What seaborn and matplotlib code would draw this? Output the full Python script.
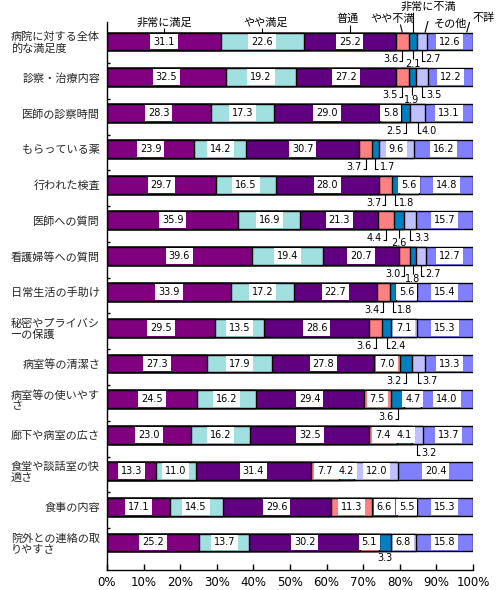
import numpy as np
import pandas as pd
import matplotlib
matplotlib.use("Agg")
import matplotlib.pyplot as plt
import seaborn as sns

# ---------------- data ----------------
categories = ["病院に対する全体\n的な満足度", "診察・治療内容", "医師の診察時間", "もらっている薬",
              "行われた検査", "医師への質問", "看護婦等への質問", "日常生活の手助け",
              "秘密やプライバシ\nーの保護", "病室等の清潔さ", "病室等の使いやす\nさ",
              "廊下や病室の広さ", "食堂や談話室の快\n適さ", "食事の内容", "院外との連絡の取\nりやすさ"]
series_names = ["非常に満足", "やや満足", "普通", "やや不満", "非常に不満", "その他", "不詳"]
very_satisfied = [31.1, 32.5, 28.3, 23.9, 29.7, 35.9, 39.6, 33.9, 29.5, 27.3, 24.5, 23.0, 13.3, 17.1, 25.2]
somewhat_satisfied = [22.6, 19.2, 17.3, 14.2, 16.5, 16.9, 19.4, 17.2, 13.5, 17.9, 16.2, 16.2, 11.0, 14.5, 13.7]
neutral = [25.2, 27.2, 29.0, 30.7, 28.0, 21.3, 20.7, 22.7, 28.6, 27.8, 29.4, 32.5, 31.4, 29.6, 30.2]
somewhat_dissatisfied = [3.6, 3.5, 5.8, 3.7, 3.7, 4.4, 3.0, 3.4, 3.6, 7.0, 7.5, 7.4, 7.7, 11.3, 5.1]
very_dissatisfied = [2.1, 1.9, 2.5, 1.7, 1.8, 2.6, 1.8, 1.8, 2.4, 3.2, 3.6, 4.1, 4.2, 6.6, 3.3]
other = [2.7, 3.5, 4.0, 9.6, 5.6, 3.3, 2.7, 5.6, 7.1, 3.7, 4.7, 3.2, 12.0, 5.5, 6.8]
unknown = [12.6, 12.2, 13.1, 16.2, 14.8, 15.7, 12.7, 15.4, 15.3, 13.3, 14.0, 13.7, 20.4, 15.3, 15.8]
x_tick_values = [0, 10, 20, 30, 40, 50, 60, 70, 80, 90, 100]
x_tick_labels = ["0%", "10%", "20%", "30%", "40%", "50%", "60%", "70%", "80%", "90%", "100%"]

# ---------------- style ----------------
colors = ["#800080", "#A0E0E0", "#600080", "#FF8080", "#0080C0", "#C0C0FF", "#8080FF"]

# label placement for small segments (row, series) -> mode
outside = {
    (0, 3): "L", (0, 4): "B", (0, 5): "R",
    (1, 3): "L", (1, 4): "B", (1, 5): "R",
    (2, 4): "L", (2, 5): "R",
    (3, 3): "L", (3, 4): "R",
    (4, 3): "L", (4, 4): "R",
    (5, 3): "L", (5, 4): "B", (5, 5): "R",
    (6, 3): "L", (6, 4): "B", (6, 5): "R",
    (7, 3): "L", (7, 4): "R",
    (8, 3): "L", (8, 4): "R",
    (9, 4): "L", (9, 5): "R",
    (10, 4): "L",
    (11, 5): "R",
    (14, 4): "U",
}
# legend callouts: (dx_text_px, y_text_px_from_top, dx_linetop_px, y_linetop_px, target_frac)
legend_layout = [
    (0, 22.5, 0, 28, 0.5),
    (3, 22.5, 0, 28, 0.5),
    (-2, 19, 0, 24.5, 0.5),
    (-10, 19, -2, 24.5, 0.5),
    (16, 6.5, 0, 11.5, 0.5),
    (26, 24, 3, 21, 0.85),
    (17, 18, 3, 22, 0.87),
]

sns.set_theme(style="white")
plt.rcParams["font.family"] = ["Noto Sans CJK JP", "DejaVu Sans"]

df = pd.DataFrame({"category": categories})
cols = [very_satisfied, somewhat_satisfied, neutral, somewhat_dissatisfied,
        very_dissatisfied, other, unknown]
for name, vals in zip(series_names, cols):
    df[name] = vals
cum = df[series_names].cumsum(axis=1)
starts = cum - df[series_names]

W, H = 496, 590
fig = plt.figure(figsize=(W / 100, H / 100), dpi=100)
ax = fig.add_axes([107 / W, 20 / H, 366 / W, 548 / H])

for j in reversed(range(len(series_names))):
    sns.barplot(x=cum[series_names[j]].values, y=df["category"], orient="h",
                color=colors[j], saturation=1, width=0.5, edgecolor="black",
                linewidth=1.0, errorbar=None, ax=ax)

ax.set_xlim(0, 100)
ax.set_ylim(14.77, -0.545)
ax.set_xlabel("")
ax.set_ylabel("")
for s in ["top", "right"]:
    ax.spines[s].set_visible(False)
for s in ["left", "bottom"]:
    ax.spines[s].set_color("black")
    ax.spines[s].set_linewidth(1.0)

ax.set_xticks(x_tick_values)
ax.set_xticklabels(x_tick_labels, family="DejaVu Sans")
ax.tick_params(axis="x", direction="in", length=4, width=1, bottom=True,
               labelsize=8.5, pad=4, colors="black")
ax.set_yticks(range(len(categories)))
ax.set_yticklabels(categories, fontsize=8, linespacing=1.1)
for lbl in ax.get_yticklabels():
    lbl.set_multialignment("left")
ax.tick_params(axis="y", which="major", length=0, pad=5)
ax.set_yticks([i - 0.4 for i in range(1, len(categories))], minor=True)
ax.tick_params(axis="y", which="minor", direction="in", length=2.5, width=1,
               left=True, color="black")

fig.canvas.draw()
d2p = ax.transData.transform
p2d = ax.transData.inverted().transform


def line_px(points):
    pts = np.array([p2d(p) for p in points])
    ax.plot(pts[:, 0], pts[:, 1], color="black", lw=0.8, clip_on=False,
            solid_capstyle="butt", zorder=5)


num_kw = dict(fontsize=7, family="DejaVu Sans", color="black", zorder=6)

for i in range(len(categories)):
    for j, name in enumerate(series_names):
        v = df.loc[i, name]
        xc = starts.loc[i, name] + v / 2
        txt = f"{v:.1f}"
        mode = outside.get((i, j))
        if mode is None:
            ax.text(xc, i, txt, ha="center", va="center",
                    bbox=dict(boxstyle="square,pad=0.3", fc="white", ec="none"),
                    **num_kw)
            continue
        x0, y0 = d2p((xc, i + 0.25))
        if mode == "L":
            line_px([(x0, y0), (x0, y0 - 11), (x0 - 3, y0 - 11)])
            tx, ty = p2d((x0 - 4, y0 - 9))
            ax.text(tx, ty, txt, ha="right", va="center", clip_on=False, **num_kw)
        elif mode == "R":
            line_px([(x0, y0), (x0, y0 - 11), (x0 + 3, y0 - 11)])
            tx, ty = p2d((x0 + 4, y0 - 9))
            ax.text(tx, ty, txt, ha="left", va="center", clip_on=False, **num_kw)
        elif mode == "B":
            line_px([(x0, y0), (x0, y0 - 9)])
            tx, ty = p2d((x0, y0 - 14))
            ax.text(tx, ty, txt, ha="center", va="center", clip_on=False, **num_kw)
        else:
            tx, ty = p2d((x0, y0 - 7))
            ax.text(tx, ty, txt, ha="center", va="center", clip_on=False, **num_kw)

# legend callouts above first bar
for j, name in enumerate(series_names):
    dxt, yt, dxl, yl, frac = legend_layout[j]
    xt_data = starts.loc[0, name] + df.loc[0, name] * frac
    x0, y0 = d2p((xt_data, -0.25))
    line_px([(x0 + dxl, H - yl), (x0, y0)])
    fig.text((x0 + dxt) / W, yt / H * -1 + 1, name, ha="center", va="center",
             fontsize=8, color="black")

fig.savefig("out.png", dpi=100)
